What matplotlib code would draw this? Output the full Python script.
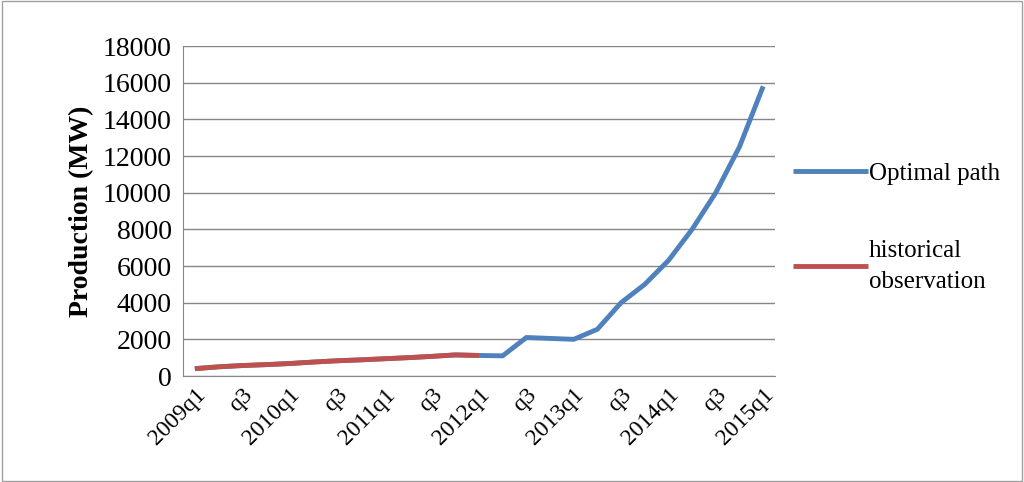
import matplotlib
matplotlib.use("Agg")
import matplotlib.pyplot as plt

quarters = []
for y in range(2009, 2016):
    for q in range(1, 5):
        quarters.append(f"{y}q{q}")
quarters = quarters[:25]
tick_labels = ["2009q1","q3","2010q1","q3","2011q1","q3","2012q1","q3","2013q1","q3","2014q1","q3","2015q1"]
historical = [400, 500, 570, 620, 680, 760, 830, 880, 940, 1000, 1070, 1150, 1120]
optimal = historical + [1100, 2100, 2050, 2000, 2550, 4000, 5000, 6300, 8000, 10000, 12500, 15800]

plt.rcParams['font.family'] = ['Liberation Serif', 'DejaVu Serif']
fig = plt.figure(figsize=(10.24, 4.82), dpi=100)
fig.patches.append(plt.Rectangle((0.002, 0.002), 0.996, 0.996, transform=fig.transFigure,
                                 fill=False, edgecolor='#a0a0a0', linewidth=1))
ax = fig.add_axes([183/1024, 1-376/482, (775-183)/1024, (376-46)/482])
x = list(range(len(quarters)))
ax.plot(x, optimal, color='#4f81bd', lw=3.5, label='Optimal path', solid_capstyle='butt')
ax.plot(x[:len(historical)], historical, color='#c0504d', lw=3.5, label='historical\nobservation', solid_capstyle='butt')
ax.set_xlim(-0.5, len(quarters)-0.5)
ax.set_ylim(0, 18000)
ax.set_yticks(range(0, 18001, 2000))
ax.set_xticks(range(0, 25, 2))
ax.set_xticklabels(tick_labels, rotation=45, ha='right', rotation_mode='anchor', fontsize=17)
ax.tick_params(axis='y', labelsize=20, length=0, pad=8)
ax.tick_params(axis='x', length=0, pad=6)
ax.grid(axis='y', color='#868686', lw=1)
ax.set_axisbelow(True)
for s in ['top', 'right']:
    ax.spines[s].set_visible(False)
ax.spines['left'].set_color('#868686')
ax.spines['bottom'].set_color('#868686')
ax.set_ylabel('Production (MW)', fontsize=20, fontweight='bold', labelpad=6)
leg = ax.legend(loc='center left', bbox_to_anchor=(1.0, 0.45), frameon=False, fontsize=18,
          handlelength=3.0, handletextpad=0.05, labelspacing=2.2, borderaxespad=0.3)
for t in leg.get_texts():
    t.set_linespacing(1.55)
fig.savefig('out.png', dpi=100)
